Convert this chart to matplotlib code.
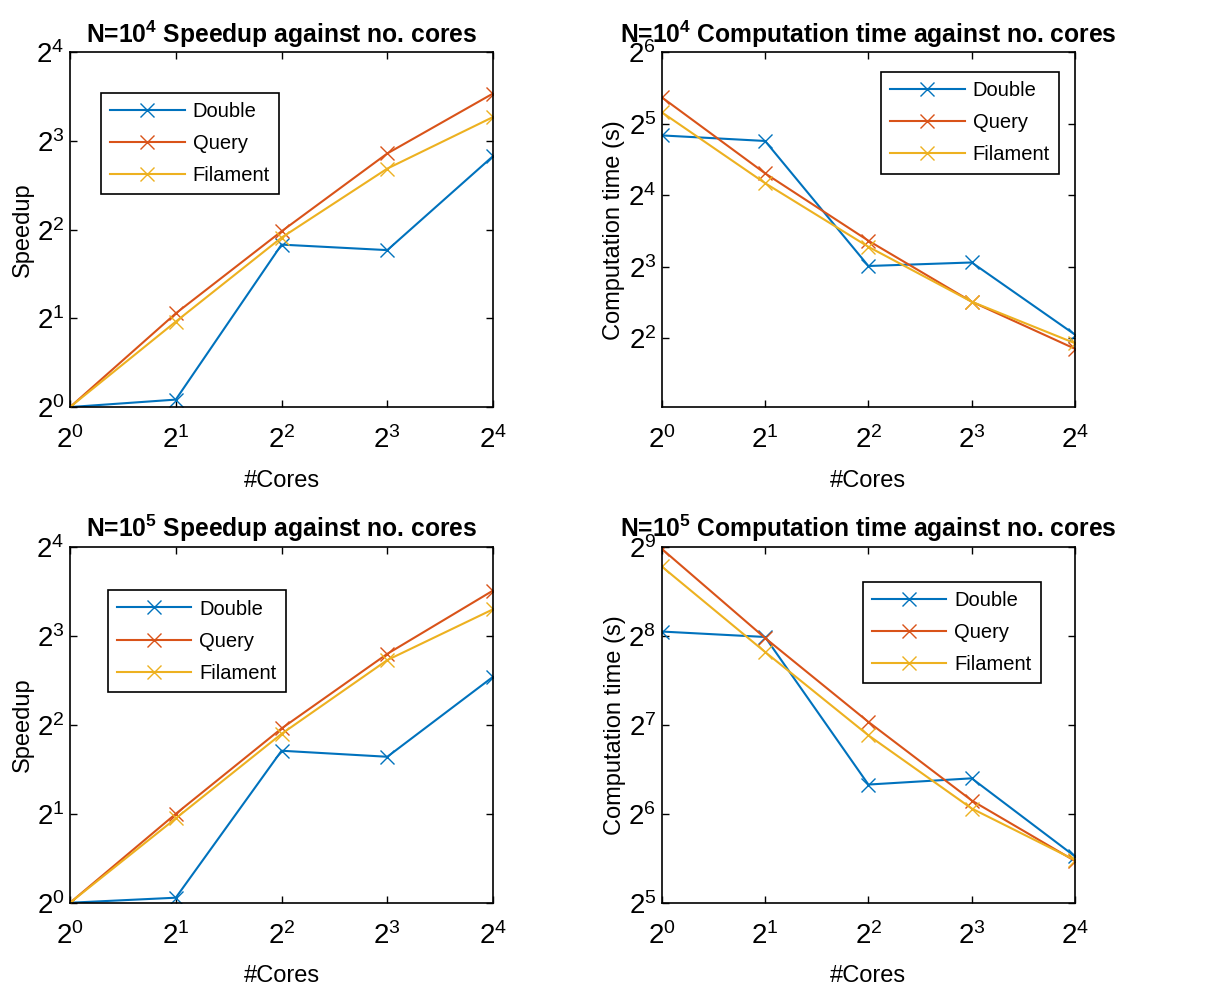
import matplotlib
matplotlib.use("Agg")
import matplotlib.pyplot as plt
from matplotlib.ticker import LogFormatterMathtext, FixedLocator, NullLocator

plt.rcParams["font.family"] = "Liberation Sans"
plt.rcParams["mathtext.fontset"] = "custom"
plt.rcParams["mathtext.rm"] = "Liberation Sans"
plt.rcParams["mathtext.bf"] = "Liberation Sans:bold"

cores = [1, 2, 4, 8, 16]
labels = ["Double", "Query", "Filament"]
colors = ["#0072BD", "#D95319", "#EDB120"]

# N=1e4
speed4_double = [1.0, 1.06, 3.56, 3.41, 7.11]
speed4_query = [1.0, 2.08, 3.95, 7.26, 11.6]
speed4_filament = [1.0, 1.95, 3.76, 6.45, 9.65]
time4_double = [28.6, 27.1, 8.06, 8.34, 4.14]
time4_query = [41.4, 19.8, 10.3, 5.70, 3.61]
time4_filament = [35.8, 18.0, 9.71, 5.70, 3.81]

# N=1e5
speed5_double = [1.0, 1.04, 3.27, 3.12, 5.82]
speed5_query = [1.0, 2.0, 3.89, 6.96, 11.4]
speed5_filament = [1.0, 1.93, 3.73, 6.63, 9.85]
time5_double = [265, 254, 80.4, 84.4, 45.9]
time5_query = [505, 252, 131, 71.0, 44.3]
time5_filament = [440, 226, 118, 66.7, 44.6]

fig = plt.figure(figsize=(12.12, 9.88), dpi=100)

panels = [
    ([0.0578, 0.588, 0.349, 0.359], [speed4_double, speed4_query, speed4_filament],
     r"N=10$^{\mathbf{4}}$ Speedup against no. cores", "Speedup",
     (2**0, 2**4), [2**k for k in range(0, 5)], "upper left", (0.073, 0.885)),
    ([0.546, 0.588, 0.341, 0.359], [time4_double, time4_query, time4_filament],
     r"N=10$^{\mathbf{4}}$ Computation time against no. cores", "Computation time (s)",
     (2**1.037, 2**6), [2**k for k in range(2, 7)], "upper right", (0.961, 0.944)),
    ([0.0578, 0.0863, 0.349, 0.360], [speed5_double, speed5_query, speed5_filament],
     r"N=10$^{\mathbf{5}}$ Speedup against no. cores", "Speedup",
     (2**0, 2**4), [2**k for k in range(0, 5)], "upper left", (0.089, 0.878)),
    ([0.546, 0.0863, 0.341, 0.360], [time5_double, time5_query, time5_filament],
     r"N=10$^{\mathbf{5}}$ Computation time against no. cores", "Computation time (s)",
     (2**5, 2**9), [2**k for k in range(5, 10)], "upper right", (0.917, 0.902)),
]

for rect, series, title, ylabel, ylim, yticks, loc, anchor in panels:
    ax = fig.add_axes(rect)
    for vals, lab, c in zip(series, labels, colors):
        ax.plot(cores, vals, color=c, marker="x", markersize=10, lw=1.5, label=lab)
    ax.set_xscale("log", base=2)
    ax.set_yscale("log", base=2)
    ax.set_xlim(1, 16)
    ax.set_ylim(*ylim)
    ax.xaxis.set_major_locator(FixedLocator(cores))
    ax.yaxis.set_major_locator(FixedLocator(yticks))
    ax.xaxis.set_minor_locator(NullLocator())
    ax.yaxis.set_minor_locator(NullLocator())
    ax.xaxis.set_major_formatter(LogFormatterMathtext(base=2))
    ax.yaxis.set_major_formatter(LogFormatterMathtext(base=2))
    ax.tick_params(direction="in", top=True, right=True, labelsize=20, length=5, width=1)
    ax.tick_params(axis="x", pad=14)
    ax.tick_params(axis="y", pad=4)
    for s in ax.spines.values():
        s.set_linewidth(1.2)
    ax.set_title(title, fontsize=17.7, fontweight="bold", pad=7)
    ax.set_xlabel("#Cores", fontsize=17, labelpad=11)
    ax.set_ylabel(ylabel, fontsize=17, labelpad=2)
    leg = ax.legend(loc=loc, bbox_to_anchor=anchor, fontsize=14.5, fancybox=False,
                    edgecolor="black", framealpha=1, handlelength=3.7,
                    borderpad=0.45, labelspacing=0.65, handletextpad=0.4,
                    borderaxespad=0)
    leg.get_frame().set_linewidth(1.2)

fig.savefig("out.png", dpi=100)
